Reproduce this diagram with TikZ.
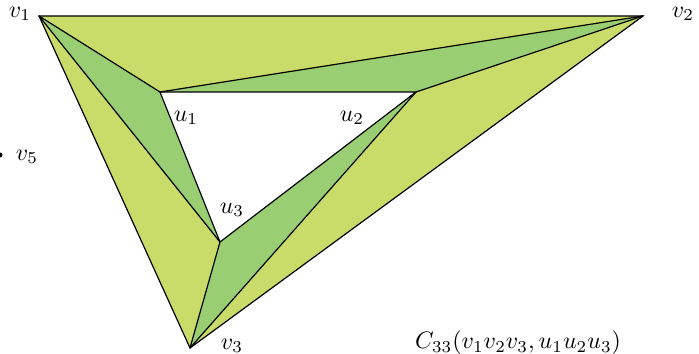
\documentclass[tikz,border=0pt]{standalone}
\definecolor{lightgr}{RGB}{201,220,105}
\definecolor{darkgr}{RGB}{153,206,114}
\tikzset{
  edge/.style={draw=black, line width=0.5pt, line join=miter},
  lbl/.style={inner sep=0pt, font=\normalsize}
}
\begin{document}
\begin{tikzpicture}[x=0.42pt,y=-0.42pt]
\useasboundingbox (0,0) rectangle (699,354);
\coordinate (v1) at (39,16);
\coordinate (v2) at (643,16);
\coordinate (v3) at (190,348);
\coordinate (u1) at (160,92);
\coordinate (u2) at (416,92);
\coordinate (u3) at (220,242);
\coordinate (v5) at (0,155);
% fills
\fill[lightgr] (v1) -- (v2) -- (v3) -- cycle;
\fill[white] (u1) -- (u2) -- (u3) -- cycle;
\fill[darkgr] (v1) -- (u1) -- (u3) -- cycle;
\fill[darkgr] (u1) -- (v2) -- (u2) -- cycle;
\fill[darkgr] (u3) -- (u2) -- (v3) -- cycle;
% edges
\draw[edge] (v1) -- (v2) -- (v3) -- cycle;
\draw[edge] (u1) -- (u2) -- (u3) -- cycle;
\draw[edge] (v1) -- (u1);
\draw[edge] (v1) -- (u3);
\draw[edge] (u1) -- (v2);
\draw[edge] (u2) -- (v2);
\draw[edge] (u3) -- (v3);
\draw[edge] (u2) -- (v3);
\fill[black] (v5) circle (2.5);
% labels
\node[lbl] (lv1) at (20,14) {$v_1$};
\node[lbl] (lv2) at (683,14) {$v_2$};
\node[lbl] (lv3) at (232,346) {$v_3$};
\node[lbl] (lv5) at (27,157) {$v_5$};
\node[lbl] (lu1) at (186,118) {$u_1$};
\node[lbl] (lu2) at (352,118) {$u_2$};
\node[lbl] (lu3) at (232,210) {$u_3$};
\node[lbl] (cap) at (518,343) {$C_{33}(v_1v_2v_3,u_1u_2u_3)$};
\end{tikzpicture}
\end{document}
